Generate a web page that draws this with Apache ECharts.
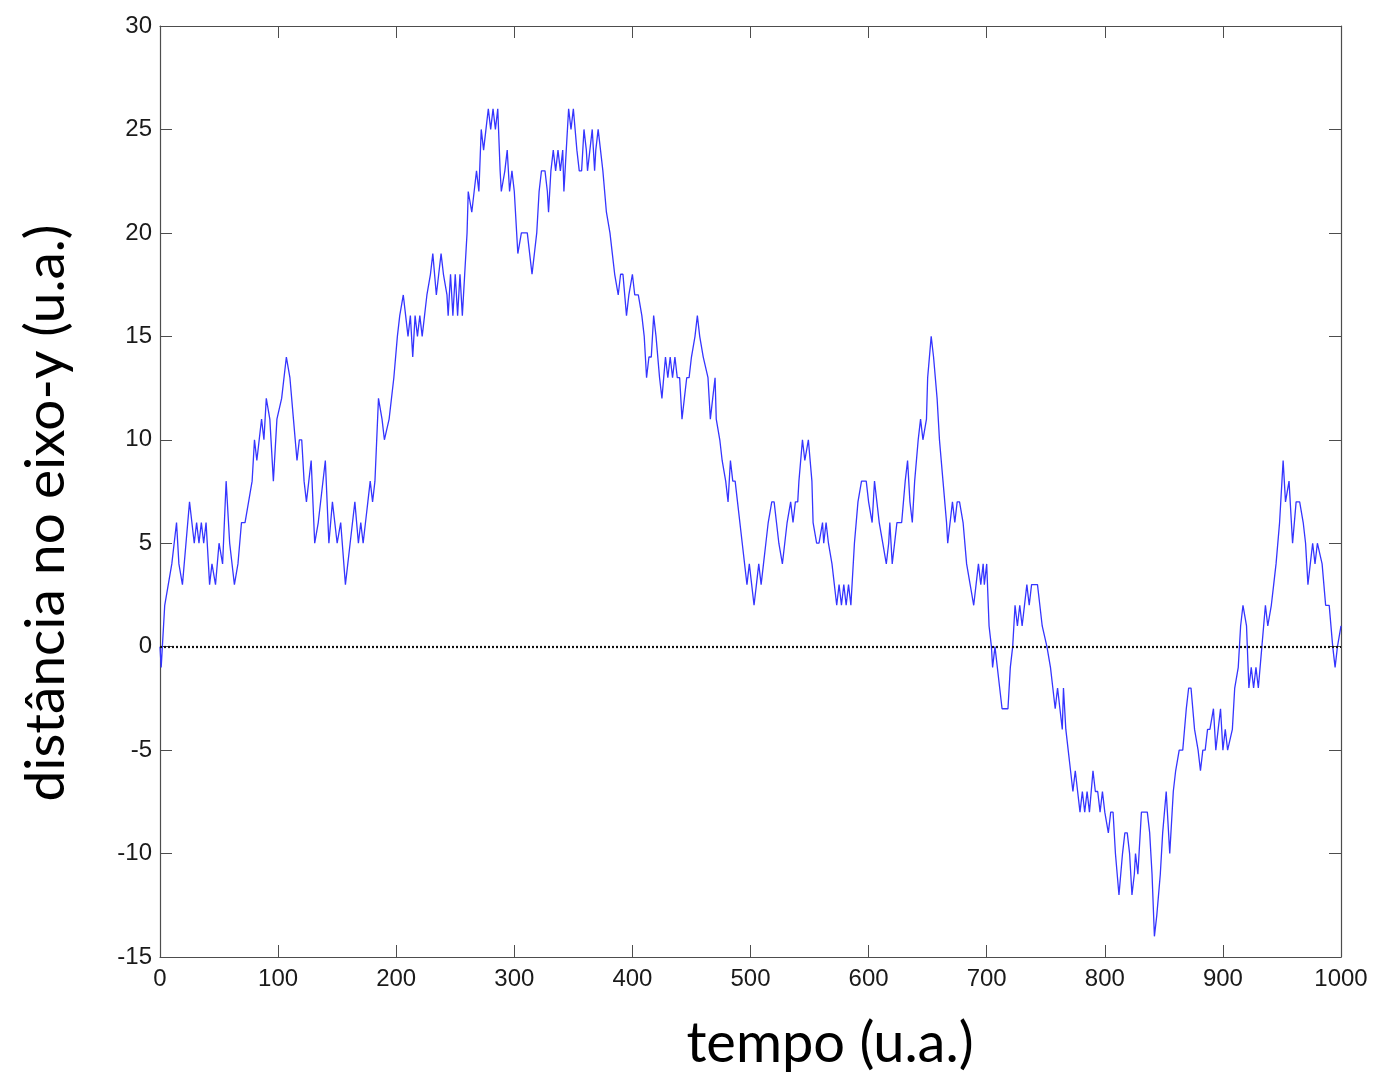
<!DOCTYPE html>
<html>
<head>
<meta charset="utf-8">
<script src="https://cdn.jsdelivr.net/npm/echarts@6/dist/echarts.min.js"></script>
<style>
  html, body { margin: 0; padding: 0; background: #fff; }
  #chart { width: 1377px; height: 1073px; }
</style>
</head>
<body>
<div id="chart"></div>
<script>
(function () {
  'use strict';

  // turning points of the walk (time, distance)
  var tempo = [
    0, 1, 4, 7, 10, 14, 16, 19, 22, 25, 27, 29, 31, 33, 35, 37, 39, 42, 44, 47,
    50, 53, 56, 59, 63, 66, 69, 72, 75, 78, 80, 82, 84, 86, 88, 90, 93, 96, 99, 103,
    107, 110, 113, 116, 118, 120, 122, 124, 126, 128, 131, 134, 140, 143, 146, 150, 153, 157, 161, 165,
    168, 170, 172, 174, 176, 178, 180, 182, 185, 188, 190, 194, 198, 201, 203, 206, 208, 210, 212, 214,
    216, 218, 220, 222, 224, 226, 229, 231, 234, 236, 238, 240, 243, 244, 246, 248, 250, 252, 254, 256,
    258, 260, 261, 264, 266, 268, 270, 272, 274, 276, 278, 280, 282, 284, 286, 288, 289, 292, 294, 296,
    298, 300, 303, 306, 309, 311, 313, 315, 317, 319, 321, 323, 326, 328, 329, 331, 333, 335, 337, 339,
    341, 342, 344, 346, 348, 350, 353, 355, 357, 359, 361, 362, 364, 366, 368, 369, 371, 373, 375, 378,
    381, 383, 385, 388, 390, 392, 395, 397, 400, 402, 405, 408, 410, 412, 414, 416, 418, 420, 423, 425,
    428, 430, 432, 434, 436, 438, 440, 442, 444, 446, 448, 450, 453, 455, 457, 460, 464, 466, 468, 470,
    471, 474, 476, 479, 481, 483, 485, 487, 489, 491, 493, 495, 497, 499, 501, 503, 505, 507, 509, 511,
    513, 515, 518, 520, 522, 524, 527, 529, 531, 534, 536, 538, 540, 541, 544, 546, 549, 552, 553, 556,
    558, 561, 562, 564, 566, 569, 571, 573, 575, 577, 579, 581, 583, 585, 588, 591, 594, 596, 598, 600,
    603, 605, 607, 609, 612, 615, 617, 618, 620, 622, 624, 628, 631, 633, 635, 637, 639, 642, 644, 646,
    649, 650, 653, 655, 658, 660, 663, 666, 667, 669, 671, 673, 675, 677, 680, 683, 686, 689, 691, 693,
    695, 697, 698, 700, 702, 704, 705, 707, 711, 713, 716, 718, 720, 722, 724, 726, 728, 730, 734, 736,
    738, 740, 743, 745, 747, 751, 754, 756, 758, 760, 762, 764, 765, 767, 769, 771, 773, 775, 777, 779,
    781, 783, 785, 787, 790, 792, 794, 796, 798, 800, 803, 805, 807, 809, 812, 815, 817, 819, 821, 823,
    825, 826, 828, 831, 833, 836, 838, 840, 842, 844, 847, 849, 852, 855, 858, 860, 863, 866, 869, 871,
    873, 876, 879, 881, 883, 885, 887, 889, 892, 894, 896, 898, 900, 902, 904, 908, 910, 913, 915, 917,
    920, 922, 924, 926, 928, 930, 933, 936, 938, 941, 943, 945, 948, 950, 951, 953, 956, 959, 962, 965,
    968, 970, 972, 974, 976, 978, 980, 984, 987, 990, 993, 995, 997, 1000
  ];

  var distancia = [
    0, -1, 2, 3, 4, 6, 4, 3, 5, 7, 6, 5, 6, 5, 6, 5, 6, 3, 4, 3,
    5, 4, 8, 5, 3, 4, 6, 6, 7, 8, 10, 9, 10, 11, 10, 12, 11, 8, 11, 12,
    14, 13, 11, 9, 10, 10, 8, 7, 8, 9, 5, 6, 9, 5, 7, 5, 6, 3, 5, 7,
    5, 6, 5, 6, 7, 8, 7, 8, 12, 11, 10, 11, 13, 15, 16, 17, 16, 15, 16, 14,
    16, 15, 16, 15, 16, 17, 18, 19, 17, 18, 19, 18, 17, 16, 18, 16, 18, 16, 18, 16,
    18, 20, 22, 21, 22, 23, 22, 25, 24, 25, 26, 25, 26, 25, 26, 23, 22, 23, 24, 22,
    23, 22, 19, 20, 20, 20, 19, 18, 19, 20, 22, 23, 23, 22, 21, 23, 24, 23, 24, 23,
    24, 22, 24, 26, 25, 26, 24, 23, 23, 25, 24, 23, 24, 25, 23, 24, 25, 24, 23, 21,
    20, 19, 18, 17, 18, 18, 16, 17, 18, 17, 17, 16, 15, 13, 14, 14, 16, 15, 13, 12,
    14, 13, 14, 13, 14, 13, 13, 11, 12, 13, 13, 14, 15, 16, 15, 14, 13, 11, 12, 13,
    11, 10, 9, 8, 7, 9, 8, 8, 7, 6, 5, 4, 3, 4, 3, 2, 3, 4, 3, 4,
    5, 6, 7, 7, 6, 5, 4, 5, 6, 7, 6, 7, 7, 8, 10, 9, 10, 8, 6, 5,
    5, 6, 5, 6, 5, 4, 3, 2, 3, 2, 3, 2, 3, 2, 5, 7, 8, 8, 8, 7,
    6, 8, 7, 6, 5, 4, 5, 6, 4, 5, 6, 6, 8, 9, 7, 6, 8, 10, 11, 10,
    11, 13, 15, 14, 12, 10, 8, 6, 5, 6, 7, 6, 7, 7, 6, 4, 3, 2, 3, 4,
    3, 4, 3, 4, 1, 0, -1, 0, -2, -3, -3, -3, -1, 0, 2, 1, 2, 1, 3, 2,
    3, 3, 3, 2, 1, 0, -1, -2, -3, -2, -3, -4, -2, -4, -5, -6, -7, -6, -7, -8,
    -7, -8, -7, -8, -6, -7, -7, -8, -7, -8, -9, -8, -8, -10, -12, -10, -9, -9, -10, -12,
    -11, -10, -11, -8, -8, -8, -9, -11, -14, -13, -11, -9, -7, -10, -7, -6, -5, -5, -3, -2,
    -2, -4, -5, -6, -5, -5, -4, -4, -3, -5, -4, -3, -5, -4, -5, -4, -2, -1, 1, 2,
    1, -2, -1, -2, -1, -2, 0, 2, 1, 2, 3, 4, 6, 8, 9, 7, 8, 5, 7, 7,
    6, 5, 3, 4, 5, 4, 5, 4, 2, 2, 0, -1, 0, 1
  ];

  var xTicks = [0, 1000, 100];
  var yTicks = [-15, 30, 5];

  var pontos = tempo.map(function (t, i) { return [t, distancia[i]]; });

  var chart = echarts.init(document.getElementById('chart'));

  var frame = { show: true, onZero: false, lineStyle: { color: '#4d4d4d', width: 1.2 } };
  var tickIn = { show: true, inside: true, length: 12, lineStyle: { color: '#4d4d4d', width: 1 } };
  var labelFont = {
    fontFamily: 'Liberation Sans', fontSize: 24, color: '#1a1a1a',
    formatter: function (v) { return String(v); }
  };

  var option = {
    animation: false,
    backgroundColor: '#fff',
    grid: { left: 160, right: 36, top: 26, bottom: 116, containLabel: false },
    xAxis: [{
      type: 'value', min: xTicks[0], max: xTicks[1], interval: xTicks[2],
      axisLine: frame, axisTick: tickIn, splitLine: { show: false },
      axisLabel: Object.assign({ margin: 10 }, labelFont)
    }, {
      type: 'value', position: 'top', min: xTicks[0], max: xTicks[1], interval: xTicks[2],
      axisLine: frame, axisTick: tickIn, splitLine: { show: false }, axisLabel: { show: false }
    }],
    yAxis: [{
      type: 'value', min: yTicks[0], max: yTicks[1], interval: yTicks[2],
      axisLine: frame, axisTick: tickIn, splitLine: { show: false },
      axisLabel: Object.assign({ margin: 8 }, labelFont)
    }, {
      type: 'value', position: 'right', min: yTicks[0], max: yTicks[1], interval: yTicks[2],
      axisLine: frame, axisTick: tickIn, splitLine: { show: false }, axisLabel: { show: false }
    }],
    graphic: [{
      type: 'text', x: 830, y: 1044,
      style: {
        text: 'tempo (u.a.)', align: 'center', verticalAlign: 'middle',
        fontFamily: 'Lato', fontSize: 56, fill: '#000'
      }
    }, {
      type: 'text', x: 46, y: 513, rotation: Math.PI / 2,
      style: {
        text: 'distância no eixo-y (u.a.)', align: 'center', verticalAlign: 'middle',
        fontFamily: 'Lato', fontSize: 55, fill: '#000'
      }
    }],
    series: [{
      type: 'line', data: pontos, showSymbol: false,
      lineStyle: { color: '#3535ff', width: 1.3 },
      markLine: {
        silent: true, symbol: 'none', label: { show: false },
        lineStyle: { color: '#111', type: [2, 2], width: 2.2 },
        data: [{ yAxis: 0 }]
      }
    }]
  };

  chart.setOption(option);
})();
</script>
</body>
</html>
